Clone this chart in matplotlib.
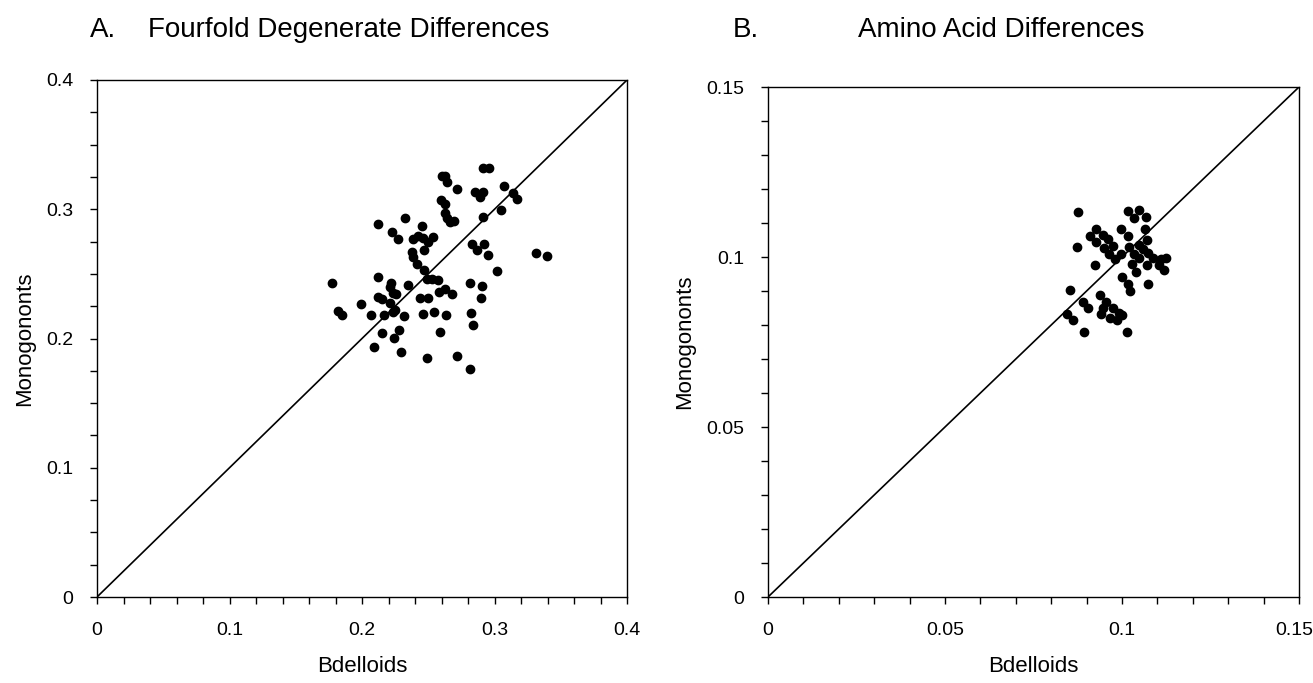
import matplotlib
matplotlib.use("Agg")
import matplotlib.pyplot as plt
from matplotlib.ticker import MultipleLocator, FuncFormatter
from matplotlib.transforms import ScaledTranslation

plt.rcParams['font.family'] = ['Liberation Sans', 'DejaVu Sans']

# Panel A: fourfold degenerate differences
a_bdelloids = [0.2915, 0.2961, 0.2602, 0.2626, 0.2639, 0.2715, 0.3072, 0.2853, 0.2911, 0.2891,
               0.3137, 0.3172, 0.2594, 0.2626, 0.2626, 0.2639, 0.2664, 0.2694, 0.2915, 0.3047,
               0.2325, 0.2118, 0.2455, 0.2224, 0.2269, 0.2387, 0.2425, 0.2463, 0.2500, 0.2538,
               0.2470, 0.2375, 0.2387, 0.2417, 0.2828, 0.2870, 0.2921, 0.2949, 0.3313, 0.3394,
               0.2470, 0.3021, 0.1771, 0.2123, 0.2488, 0.2526, 0.2576, 0.2217, 0.2211, 0.2232,
               0.2257, 0.2345, 0.2817, 0.2906, 0.2123, 0.2149, 0.2583, 0.2626, 0.2677, 0.2438,
               0.2500, 0.2900, 0.2211, 0.1990, 0.2249, 0.2236, 0.1821, 0.1851, 0.2068, 0.2166,
               0.2317, 0.2463, 0.2546, 0.2632, 0.2820, 0.2840, 0.2277, 0.2153, 0.2591, 0.2244,
               0.2093, 0.2292, 0.2488, 0.2717, 0.2817]
a_monogononts = [0.3317, 0.3317, 0.3257, 0.3257, 0.3209, 0.3157, 0.3180, 0.3136, 0.3136, 0.3097,
                 0.3128, 0.3077, 0.3072, 0.3041, 0.2973, 0.2930, 0.2904, 0.2909, 0.2942, 0.2994,
                 0.2935, 0.2888, 0.2870, 0.2822, 0.2772, 0.2767, 0.2793, 0.2775, 0.2749, 0.2783,
                 0.2685, 0.2672, 0.2628, 0.2576, 0.2731, 0.2685, 0.2731, 0.2644, 0.2659, 0.2638,
                 0.2530, 0.2525, 0.2427, 0.2476, 0.2458, 0.2463, 0.2453, 0.2432, 0.2396, 0.2354,
                 0.2342, 0.2414, 0.2427, 0.2404, 0.2323, 0.2303, 0.2362, 0.2381, 0.2344, 0.2316,
                 0.2313, 0.2311, 0.2277, 0.2265, 0.2221, 0.2205, 0.2215, 0.2184, 0.2182, 0.2182,
                 0.2176, 0.2187, 0.2207, 0.2182, 0.2200, 0.2102, 0.2066, 0.2045, 0.2050, 0.2002,
                 0.1934, 0.1898, 0.1847, 0.1867, 0.1766]

# Panel B: amino acid differences
b_bdelloids = [0.0877, 0.1016, 0.1049, 0.1033, 0.1068, 0.0997, 0.1016, 0.1066, 0.0927, 0.0911,
               0.0946, 0.0927, 0.0960, 0.0950, 0.0974, 0.0964, 0.0979, 0.0872, 0.1071, 0.1049,
               0.1058, 0.1021, 0.0997, 0.1035, 0.1049, 0.1073, 0.1087, 0.1110, 0.1124, 0.1071,
               0.1105, 0.1120, 0.1027, 0.1040, 0.0924, 0.1000, 0.1018, 0.1024, 0.1074, 0.0854,
               0.0939, 0.0889, 0.0903, 0.0955, 0.0946, 0.0974, 0.0941, 0.0991, 0.0845, 0.0862,
               0.0893, 0.0965, 0.0985, 0.1013, 0.1000]
b_monogononts = [0.1133, 0.1135, 0.1137, 0.1116, 0.1118, 0.1081, 0.1062, 0.1083, 0.1081, 0.1062,
                 0.1065, 0.1044, 0.1052, 0.1027, 0.1032, 0.1010, 0.0993, 0.1030, 0.1049, 0.1035,
                 0.1025, 0.1029, 0.1010, 0.1010, 0.0998, 0.1013, 0.0998, 0.0993, 0.0996, 0.0976,
                 0.0976, 0.0963, 0.0978, 0.0957, 0.0976, 0.0941, 0.0921, 0.0900, 0.0921, 0.0902,
                 0.0887, 0.0868, 0.0851, 0.0868, 0.0851, 0.0849, 0.0833, 0.0834, 0.0831, 0.0815,
                 0.0780, 0.0820, 0.0815, 0.0778, 0.0830]

a_limit = 0.4
b_limit = 0.15
a_ticks = [0, 0.1, 0.2, 0.3, 0.4]
b_ticks = [0, 0.05, 0.1, 0.15]

W, H = 1313, 683
fig = plt.figure(figsize=(W / 100, H / 100), dpi=100)

axA = fig.add_axes([97 / W, 1 - 597 / H, (627 - 97) / W, (597 - 80) / H])
axB = fig.add_axes([768 / W, 1 - 597 / H, (1299 - 768) / W, (597 - 87) / H])

fmt = FuncFormatter(lambda v, p: ('%g' % round(v, 4)))


def style(ax, lim, ticks, xminor, yminor):
    ax.set_xlim(0, lim)
    ax.set_ylim(0, lim)
    ax.set_xticks(ticks)
    ax.set_yticks(ticks)
    ax.xaxis.set_minor_locator(MultipleLocator(xminor))
    ax.yaxis.set_minor_locator(MultipleLocator(yminor))
    ax.xaxis.set_major_formatter(fmt)
    ax.yaxis.set_major_formatter(fmt)
    ax.tick_params(which='both', direction='out', length=5, width=1, labelsize=14,
                   color='black', top=False, right=False)
    ax.tick_params(axis='x', which='major', pad=13)
    ax.tick_params(axis='y', which='major', pad=12)
    for s in ax.spines.values():
        s.set_linewidth(1.0)
        s.set_color('black')
    ax.plot([0, lim], [0, lim], color='black', lw=1.2, zorder=2)
    ax.set_xlabel('Bdelloids', fontsize=16, labelpad=12)
    ax.set_ylabel('Monogononts', fontsize=16, labelpad=8)


style(axA, a_limit, a_ticks, 0.02, 0.025)
style(axB, b_limit, b_ticks, 0.01, 0.01)

axA.plot(a_bdelloids, a_monogononts, 'o', color='black', ms=6, mec='black', zorder=3, clip_on=False)
axB.plot(b_bdelloids, b_monogononts, 'o', color='black', ms=6, mec='black', zorder=3, clip_on=False)

fig.text(90 / W, 1 - 30 / H, 'A.', fontsize=20, va='center', ha='left')
fig.text(148 / W, 1 - 30 / H, 'Fourfold Degenerate Differences', fontsize=20, va='center', ha='left')
fig.text(733 / W, 1 - 30 / H, 'B.', fontsize=20, va='center', ha='left')
fig.text(858 / W, 1 - 30 / H, 'Amino Acid Differences', fontsize=20, va='center', ha='left')

# keep the last x tick label of panel B inside the figure
fig.canvas.draw()
last = axB.xaxis.get_major_ticks()[-1].label1
last.set_transform(last.get_transform() + ScaledTranslation(-5 / 100, 0, fig.dpi_scale_trans))

fig.savefig('out.png', dpi=100, facecolor='white')
